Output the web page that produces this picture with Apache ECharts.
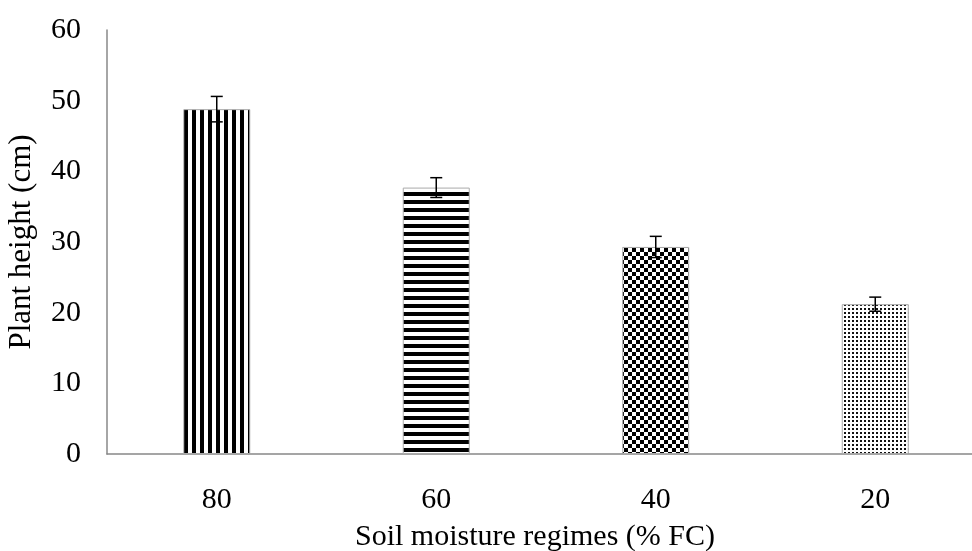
<!DOCTYPE html>
<html><head><meta charset="utf-8">
<script src="https://cdn.jsdelivr.net/npm/echarts@6/dist/echarts.min.js"></script>
<style>html,body{margin:0;padding:0;background:#fff}#c{width:972px;height:551px}</style>
</head><body><div id="c"></div>
<script>
const categories = ['80', '60', '40', '20'];
const heights = [48.8, 37.7, 29.3, 21.2];
const errors = [1.8, 1.4, 1.5, 1.0];
const yTicks = [0, 10, 20, 30, 40, 50, 60];

function makePattern(kind) {
  const c = document.createElement('canvas');
  const ctx = c.getContext('2d');
  if (kind === 'v') {
    c.width = 8; c.height = 8;
    ctx.fillStyle = '#fff'; ctx.fillRect(0,0,8,8);
    ctx.fillStyle = '#000'; ctx.fillRect(0,0,4,8);
  } else if (kind === 'h') {
    c.width = 8; c.height = 8;
    ctx.fillStyle = '#fff'; ctx.fillRect(0,0,8,8);
    ctx.fillStyle = '#000'; ctx.fillRect(0,0,8,4);
  } else if (kind === 'c') {
    c.width = 8; c.height = 8;
    ctx.fillStyle = '#fff'; ctx.fillRect(0,0,8,8);
    ctx.fillStyle = '#000'; ctx.fillRect(0,0,4,4); ctx.fillRect(4,4,4,4);
  } else {
    c.width = 4; c.height = 4;
    ctx.fillStyle = '#fff'; ctx.fillRect(0,0,4,4);
    ctx.fillStyle = '#111'; ctx.fillRect(0,0,2,2);
  }
  return {image: c, repeat: 'repeat'};
}
const patterns = [makePattern('v'), makePattern('h'), makePattern('c'), makePattern('d')];

const chart = echarts.init(document.getElementById('c'), null, {renderer: 'canvas'});
const font = '"Liberation Serif", "Times New Roman", serif';
chart.setOption({
  animation: false,
  grid: {left: 107, width: 878, top: 30, bottom: 97, outerBoundsMode: 'none', containLabel: false},
  xAxis: {
    type: 'category', data: categories,
    axisLine: {lineStyle: {color: '#888', width: 1.5}},
    axisTick: {show: false},
    axisLabel: {color: '#000', fontFamily: font, fontSize: 30, margin: 31}
  },
  yAxis: {
    type: 'value', min: yTicks[0], max: yTicks[yTicks.length-1], interval: 10,
    axisLine: {show: true, lineStyle: {color: '#888', width: 1.5}},
    axisTick: {show: false},
    splitLine: {show: false},
    axisLabel: {color: '#000', fontFamily: font, fontSize: 30, margin: 26}
  },
  series: [{
    type: 'bar', barWidth: 67,
    data: heights.map((v, i) => ({value: v, itemStyle: {color: patterns[i], borderColor: '#aaa', borderWidth: 1}}))
  }, {
    type: 'custom',
    data: heights.map((v, i) => [i, v, errors[i]]),
    renderItem: function (params, api) {
      const x = api.value(0), v = api.value(1), e = api.value(2);
      const top = api.coord([x, v + e]);
      const bot = api.coord([x, v - e]);
      const hw = 6;
      const st = {stroke: '#000', lineWidth: 1.5};
      return {type: 'group', children: [
        {type: 'line', shape: {x1: top[0], y1: top[1], x2: bot[0], y2: bot[1]}, style: st},
        {type: 'line', shape: {x1: top[0]-hw, y1: top[1], x2: top[0]+hw, y2: top[1]}, style: st},
        {type: 'line', shape: {x1: bot[0]-hw, y1: bot[1], x2: bot[0]+hw, y2: bot[1]}, style: st}
      ]};
    },
    z: 10
  }],
  graphic: [
    {type: 'text', x: 355, y: 537, style: {text: 'Soil moisture regimes (% FC)', fontFamily: font, fontSize: 30, fill: '#000', textVerticalAlign: 'middle'}},
    {type: 'text', x: 22, y: 242, rotation: Math.PI/2, style: {text: 'Plant height (cm)', fontFamily: font, fontSize: 31, fill: '#000', textAlign: 'center', textVerticalAlign: 'middle'}}
  ]
});
</script></body></html>
